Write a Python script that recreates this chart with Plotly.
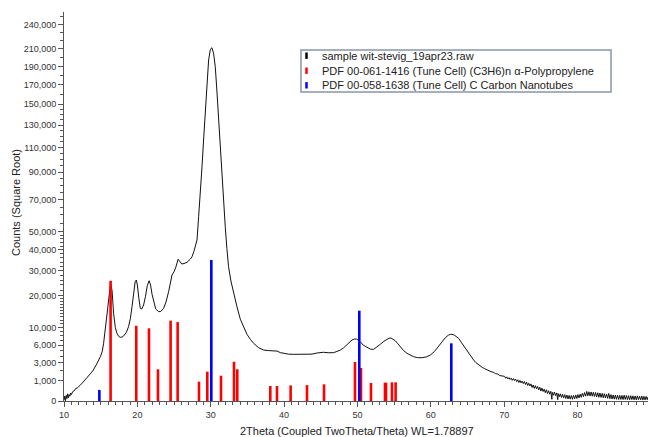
import math
import plotly.graph_objects as go

# ---------------- data ----------------
# measured pattern: 2theta (deg) and counts
two_theta = [
    10.0, 10.1, 10.2, 10.3, 10.4, 10.5, 10.6, 10.7, 10.8, 10.9, 11.0, 11.2, 11.4, 11.6, 11.8,
    12.0, 12.2, 12.5, 12.8, 13.1, 13.4, 13.7, 14.0, 14.3, 14.6, 14.95, 15.2, 15.4, 15.6, 15.86,
    16.1, 16.3, 16.4, 16.55, 16.76, 17.0, 17.22, 17.45, 17.67, 17.9, 18.12, 18.5, 18.8, 19.05,
    19.27, 19.5, 19.7, 19.85, 20.0, 20.2, 20.4, 20.6, 20.85, 21.1, 21.35, 21.6, 21.8, 22.0,
    22.21, 22.5, 22.9, 23.2, 23.58, 23.9, 24.26, 24.5, 24.72, 25.0, 25.25, 25.55, 25.8, 26.05,
    26.35, 26.76, 27.2, 27.45, 27.7, 27.9, 28.13, 28.35, 28.58, 28.81, 29.05, 29.26, 29.5,
    29.71, 29.95, 30.17, 30.4, 30.62, 30.85, 31.07, 31.3, 31.53, 31.75, 31.98, 32.2, 32.43,
    32.75, 33.12, 33.55, 34.03, 34.5, 34.94, 35.4, 35.84, 36.5, 37.2, 37.9, 38.57, 39.03,
    39.5, 39.93, 40.6, 41.3, 42.2, 43.12, 43.8, 44.5, 45.38, 46.0, 46.75, 47.2, 47.66, 48.1,
    48.57, 49.0, 49.25, 49.6, 49.84, 50.1, 50.38, 50.8, 51.3, 51.75, 52.2, 52.65, 53.11, 53.6,
    54.02, 54.3, 54.57, 54.85, 55.15, 55.5, 55.84, 56.3, 56.75, 57.2, 57.65, 58.2, 58.79, 59.4,
    59.93, 60.5, 61.06, 61.5, 61.97, 62.4, 62.7, 62.88, 63.2, 63.5, 63.78, 64.2, 64.69, 65.2,
    65.83, 66.1, 66.4, 66.7, 67.0, 67.3, 67.6, 67.9, 68.2, 68.5, 68.8, 69.1, 69.4, 69.7,
    70.05, 70.2, 70.35, 70.5, 70.65, 70.8, 70.95, 71.1, 71.25, 71.4, 71.55, 71.7, 71.85, 72.0,
    72.15, 72.3, 72.45, 72.6, 72.75, 72.9, 73.05, 73.2, 73.35, 73.5, 73.65, 73.8, 73.95, 74.1,
    74.25, 74.4, 74.55, 74.7, 74.85, 75.0, 75.15, 75.3, 75.45, 75.6, 75.75, 75.9, 76.05, 76.2,
    76.35, 76.5, 76.55, 76.7, 76.85, 77.0, 77.15, 77.3, 77.35, 77.5, 77.65, 77.8, 77.95, 78.1,
    78.25, 78.4, 78.55, 78.7, 78.85, 79.0, 79.15, 79.3, 79.45, 79.6, 79.75, 79.9, 80.05, 80.2,
    80.35, 80.5, 80.65, 80.8, 80.95, 81.1, 81.25, 81.4, 81.55, 81.7, 81.85, 82.0, 82.15, 82.3,
    82.45, 82.6, 82.75, 82.9, 83.05, 83.2, 83.35, 83.5, 83.65, 83.8, 83.95, 84.1, 84.25, 84.4,
    84.55, 84.7, 84.85, 85.0, 85.15, 85.3, 85.45, 85.6, 85.75, 85.9, 86.05, 86.2, 86.35, 86.5,
    86.65, 86.8, 86.95, 87.1, 87.25, 87.4, 87.55, 87.7, 87.85, 88.0, 88.15, 88.3, 88.45, 88.6,
    88.75, 88.9, 89.05, 89.2, 89.35, 89.5, 89.6,
]
counts = [
    49, 144, 36, 169, 81, 225, 100, 196, 144, 256, 196, 324, 361, 484, 506,
    625, 676, 841, 1024, 1225, 1482, 1764, 2080, 2500, 3136, 3930, 4760, 6400, 9200, 14040,
    19600, 23400, 24000, 21900, 14040, 10000, 8610, 7920, 7690, 7740, 7980, 8840, 10260, 12540,
    16130, 21300, 25300, 26020, 24000, 19040, 15600, 15380, 16690, 19600, 23700, 25730, 24000, 20450,
    17800, 15380, 14540, 14640, 15600, 17690, 21400, 24960, 28130, 29580, 31680, 35340, 34000, 33100,
    33300, 33860, 35340, 36600, 39200, 41660, 45240, 58900, 74000, 94190, 119000, 144250, 172200,
    197200, 209800, 211500, 204300, 189700, 162400, 134700, 108900, 86500, 68100, 52800, 40800, 31830,
    25600, 20790, 16380, 12320, 10000, 8370, 7225, 6400, 5550, 5080, 4980, 4960, 4900,
    4620, 4500, 4360, 4330, 4330, 4380, 4360, 4560, 4680, 4600, 4620, 4830, 5080, 5480,
    6050, 6720, 7090, 7310, 7310, 7060, 6720, 6010, 5520, 5260, 5210, 5625, 6190, 6810,
    7240, 7480, 7530, 7310, 6940, 6320, 5710, 4970, 4500, 4160, 3930, 3790, 3770, 3910,
    4210, 4830, 5710, 6640, 7590, 8190, 8370, 8370, 8190, 7830, 7460, 6480, 5400, 4360,
    3420, 3080, 2809, 2652, 2401, 2256, 2116, 2070, 1892, 1832, 1681, 1640, 1482, 1444,
    1406, 1225, 1354, 1170, 1289, 1129, 1239, 1050, 1197, 1024, 1149, 949, 1089, 876,
    1037, 841, 986, 795, 949, 729, 894, 666, 818, 625, 773, 538, 697, 484,
    650, 458, 605, 400, 557, 346, 502, 324, 441, 272, 408, 237, 361, 213,
    331, 64, 289, 174, 303, 159, 262, 56, 237, 125, 225, 108, 213, 92,
    196, 81, 180, 71, 169, 67, 164, 64, 169, 74, 180, 81, 196, 96,
    213, 112, 243, 130, 276, 144, 330, 154, 310, 149, 303, 144, 289, 135,
    282, 121, 269, 112, 256, 108, 243, 100, 231, 92, 219, 85, 240, 77,
    196, 71, 185, 67, 180, 64, 174, 61, 169, 61, 169, 58, 174, 61,
    164, 58, 159, 55, 159, 58, 154, 55, 149, 52, 154, 55, 144, 52,
    149, 49, 139, 52, 135, 55, 121,
]

# PDF 00-061-1416 (C3H6)n alpha-Polypropylene reference lines
pp_pos = [16.35, 19.85, 21.58, 22.81, 24.53, 25.49, 28.4, 29.53, 31.4, 33.17, 33.62,
          38.12, 39.03, 40.89, 43.12, 45.44, 49.66, 50.48, 51.84, 53.75, 53.89, 54.7, 55.2]
pp_int = [25700, 10500, 9840, 2170, 11900, 11500, 940, 1890, 1470, 3170, 2170,
          630, 630, 670, 690, 740, 3130, 2320, 840, 860, 860, 890, 890]

# PDF 00-058-1638 C Carbon Nanotubes reference lines
cnt_pos = [14.82, 30.08, 50.25, 62.79]
cnt_int = [400, 34970, 14850, 6390]

y_tick_values = [0, 1000, 3000, 6000, 10000, 20000, 30000, 40000, 50000, 70000, 90000,
                 110000, 130000, 150000, 170000, 190000, 210000, 240000]
y_tick_labels = ["0", "1,000", "3,000", "6,000", "10,000", "20,000", "30,000", "40,000",
                 "50,000", "70,000", "90,000", "110,000", "130,000", "150,000", "170,000",
                 "190,000", "210,000", "240,000"]
x_tick_values = [10, 20, 30, 40, 50, 60, 70, 80]

legend_labels = ["sample wit-stevig_19apr23.raw",
                 "PDF 00-061-1416 (Tune Cell) (C3H6)n α-Polypropylene",
                 "PDF 00-058-1638 (Tune Cell) C Carbon Nanotubes"]

# ---------------- layout constants ----------------
W, H = 649, 437
ML, MR, MT, MB = 64, 1, 12, 36
Y_BOTTOM = 5.8          # sqrt-units at the bottom of the axis
Y_TOP = 505.8
X_RANGE = [10, 89.6]
FONT = "Liberation Sans, Arial, sans-serif"
RED = "#ff0000"
BLUE = "#0000ff"

sq = math.sqrt


def sticks(pos, inten):
    xs, ys = [], []
    for p, v in zip(pos, inten):
        xs += [p, p, None]
        ys += [0, sq(v), None]
    return xs, ys


fig = go.Figure()
fig.add_trace(go.Scatter(x=two_theta, y=[sq(c) for c in counts], mode="lines",
                         line=dict(color="#111111", width=1.0),
                         hoverinfo="skip"))
px_, py_ = sticks(pp_pos, pp_int)
fig.add_trace(go.Scatter(x=px_, y=py_, mode="lines", line=dict(color=RED, width=2.6),
                         hoverinfo="skip"))
cx_, cy_ = sticks(cnt_pos, cnt_int)
fig.add_trace(go.Scatter(x=cx_, y=cy_, mode="lines", line=dict(color=BLUE, width=2.6),
                         hoverinfo="skip"))

# minor ticks
minor_y = []
for v in range(1000, 20000, 1000):
    minor_y.append(v)
for v in range(20000, 50000, 2000):
    minor_y.append(v)
for v in range(50000, 150000, 5000):
    minor_y.append(v)
for v in range(150000, 260000, 10000):
    minor_y.append(v)
minor_y = [v for v in minor_y if v not in y_tick_values]

y_tickpos = [Y_BOTTOM if v == 0 else sq(v) for v in y_tick_values]

axis_col = "#555555"
fig.update_layout(
    width=W, height=H,
    margin=dict(l=ML, r=MR, t=MT, b=MB),
    paper_bgcolor="white", plot_bgcolor="white",
    showlegend=False,
    font=dict(family=FONT, size=9, color="#333333"),
    xaxis=dict(range=X_RANGE, tickmode="array", tickvals=x_tick_values,
               ticks="outside", ticklen=5, tickcolor=axis_col, showgrid=False, zeroline=False,
               showline=True, linecolor=axis_col, linewidth=1,
               tickfont=dict(size=9, color="#333333"),
               minor=dict(tickmode="linear", tick0=10, dtick=1, ticks="outside", ticklen=3,
                          tickcolor=axis_col, showgrid=False)),
    yaxis=dict(range=[Y_BOTTOM, Y_TOP], tickmode="array", tickvals=y_tickpos,
               ticktext=y_tick_labels, ticks="outside", ticklen=5, tickcolor=axis_col,
               showgrid=False, zeroline=False, showline=True, linecolor=axis_col, linewidth=1,
               tickfont=dict(size=9, color="#333333"),
               minor=dict(tickmode="array", tickvals=[sq(v) for v in minor_y], ticks="outside",
                          ticklen=3, tickcolor=axis_col, showgrid=False)),
)

# pixel -> paper helpers for annotations / legend
PW = W - ML - MR
PH = H - MT - MB


def pxp(x):
    return (x - ML) / PW


def pyp(y):
    return (H - MB - y) / PH


# axis titles
fig.add_annotation(text="Counts (Square Root)", xref="paper", yref="paper",
                   x=pxp(16), y=pyp(203), textangle=-90, showarrow=False,
                   xanchor="center", yanchor="middle",
                   font=dict(family=FONT, size=11, color="#222222"))
fig.add_annotation(text="2Theta (Coupled TwoTheta/Theta) WL=1.78897", xref="paper", yref="paper",
                   x=pxp(357), y=pyp(431), showarrow=False, xanchor="center", yanchor="middle",
                   font=dict(family=FONT, size=11, color="#222222"))

# legend box
fig.add_shape(type="rect", xref="paper", yref="paper", x0=pxp(301), x1=pxp(611),
              y0=pyp(92), y1=pyp(50), line=dict(color="#8796a8", width=1.5),
              fillcolor="white", layer="above")
leg_cols = ["#000000", RED, BLUE]
leg_y = [55.7, 70.7, 85.3]
for lab, col, yc in zip(legend_labels, leg_cols, leg_y):
    fig.add_shape(type="line", xref="paper", yref="paper", x0=pxp(306.5), x1=pxp(306.5),
                  y0=pyp(yc + 3.2), y1=pyp(yc - 3.2), line=dict(color=col, width=2.5),
                  layer="above")
    fig.add_annotation(text=lab, xref="paper", yref="paper", x=pxp(320), y=pyp(yc),
                       showarrow=False, xanchor="left", yanchor="middle",
                       font=dict(family=FONT, size=11, color="#222222"))

fig.write_html(
    "out.html",
    config={"displayModeBar": False},
    post_script="document.body.style.margin='0';document.body.style.overflow='hidden';",
)
